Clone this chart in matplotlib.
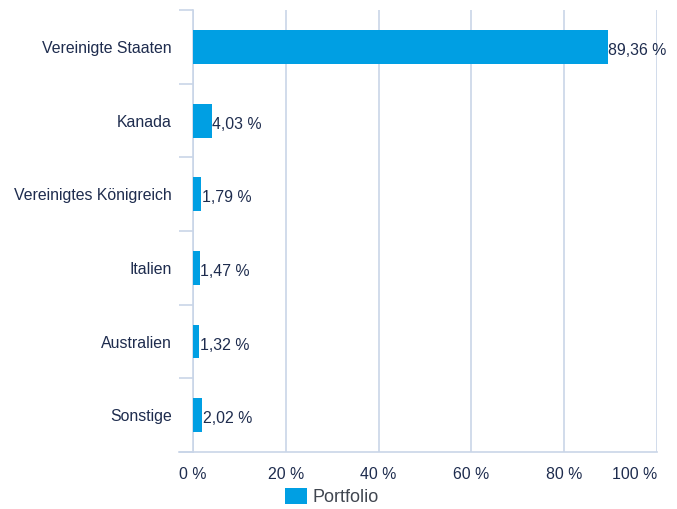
import matplotlib.pyplot as plt
import numpy as np

plt.rcParams['font.family'] = ['Liberation Sans', 'DejaVu Sans']

countries = ['Vereinigte Staaten', 'Kanada', 'Vereinigtes Königreich',
             'Italien', 'Australien', 'Sonstige']
values = [89.36, 4.03, 1.79, 1.47, 1.32, 2.02]
xticks = [0, 20, 40, 60, 80, 100]

bar_color = '#009FE3'
text_color = '#1E2C4E'
grid_color = '#C9D5E8'
fs = 11.4

fig = plt.figure(figsize=(6.77, 5.09), dpi=100)
ax = fig.add_axes([0.285, 0.112, 0.6855, 0.868])

y = np.arange(len(countries))
ax.barh(y, values, height=0.46, color=bar_color, zorder=3, label='Portfolio')
for yi, v in zip(y, values):
    ax.text(v + 0.1, yi + 0.05, ('%.2f' % v).replace('.', ',') + ' %',
            va='center', ha='left', fontsize=fs, color=text_color, zorder=4)

ax.set_ylim(len(countries) - 0.5, -0.5)
ax.set_xlim(0, 100)
ax.set_yticks(y)
ax.set_yticklabels(countries, fontsize=fs, color=text_color)
ax.set_yticks(np.arange(-0.5, len(countries)), minor=True)
ax.tick_params(axis='y', which='major', length=0, pad=15)
ax.tick_params(axis='y', which='minor', length=10, width=1.2, color=grid_color)

ax.set_xticks(xticks)
ax.set_xticklabels([str(t) + ' %' for t in xticks], fontsize=fs,
                   color=text_color)
ax.get_xticklabels()[-1].set_horizontalalignment('right')
ax.tick_params(axis='x', length=0, pad=11)
ax.grid(axis='x', color=grid_color, linewidth=1.2, zorder=0)

ax.spines['top'].set_visible(False)
ax.spines['right'].set_visible(False)
for s in ['left', 'bottom']:
    ax.spines[s].set_color(grid_color)
    ax.spines[s].set_linewidth(1.2)
ax.plot([-14 / 464, 0], [len(countries) - 0.5] * 2, color=grid_color,
        linewidth=1.2, clip_on=False, transform=ax.get_yaxis_transform())

leg = fig.legend(loc='lower center', bbox_to_anchor=(0.49, -0.027),
                 frameon=False, fontsize=13, handlelength=1.22,
                 handleheight=1.0, handletextpad=0.3)
for t in leg.get_texts():
    t.set_color('#404650')

fig.savefig('out.png', dpi=100)
